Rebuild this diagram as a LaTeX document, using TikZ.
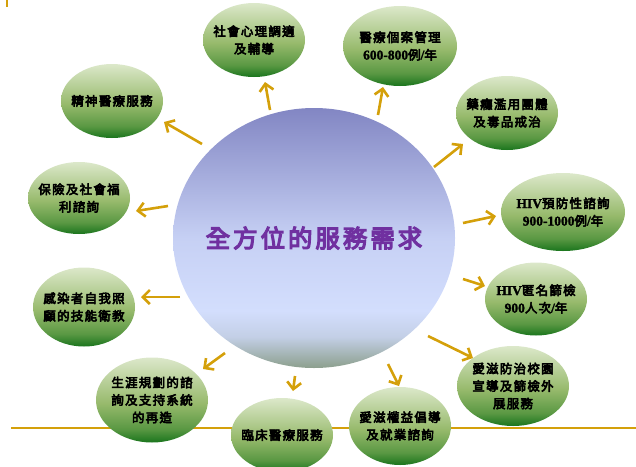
\documentclass[tikz,border=0pt]{standalone}
\usepackage{fontspec}
\usetikzlibrary{shapes.geometric,arrows.meta}
\newfontfamily\cjk{Noto Sans CJK TC}[FakeBold=4.5,LetterSpace=10]
\newfontfamily\cjkbig{Noto Sans CJK TC}[FakeBold=5,LetterSpace=12]
\newfontfamily\latb{Liberation Serif}[FakeBold=1.5]
\newcommand{\lt}[1]{{\latb\bfseries\fontsize{13.5}{17.5}\selectfont #1}}
\definecolor{gold}{HTML}{D4A00A}
\definecolor{purp}{HTML}{7030A0}
\definecolor{gDk}{HTML}{1A751D}
\definecolor{gMd}{HTML}{5A9843}
\definecolor{gMm}{HTML}{97BA6C}
\definecolor{gLt}{HTML}{DCE8CA}
\definecolor{bBt}{HTML}{8C9F8D}
\definecolor{bLo}{HTML}{C3CFE6}
\definecolor{bLt}{HTML}{D3DEFD}
\definecolor{bMd}{HTML}{C6D0F4}
\definecolor{bTp}{HTML}{8286C3}
\pgfdeclareverticalshading{gball}{100bp}{color(0bp)=(gDk); color(25bp)=(gDk); color(33bp)=(gMd); color(48bp)=(gMm); color(75bp)=(gLt); color(100bp)=(gLt)}
\pgfdeclareverticalshading{bball}{100bp}{color(0bp)=(bBt); color(25bp)=(bBt); color(31bp)=(bLo); color(36bp)=(bLt); color(50bp)=(bMd); color(75bp)=(bTp); color(100bp)=(bTp)}
\tikzset{
  gbub/.style={ellipse, shading=gball, inner sep=-30pt, align=center,
    font=\cjk\fontsize{12.5}{17.5}\selectfont, text=black},
  bbub/.style={ellipse, shading=bball, inner sep=-60pt, align=center,
    font=\cjkbig\fontsize{24.5}{28}\selectfont, text=purp},
  arr/.style={draw=gold, line width=2.6pt,
    -{Straight Barb[length=7pt,width=14pt,line width=2.6pt]}},
  rule/.style={draw=gold, line width=2pt}
}
\begin{document}
\begin{tikzpicture}[x=1pt,y=-1pt]
\useasboundingbox (0,0) rectangle (636,466);
\coordinate (r1) at (11,428);
\coordinate (r2) at (636,428);
\draw[rule] (r1) -- (r2);
\coordinate (t1) at (7,0);
\coordinate (t2) at (7,7);
\draw[draw=gold, line width=1.5pt] (t1) -- (t2);
% centre
\node[bbub, minimum width=282pt, minimum height=260pt] (c) at (314,238) {全方位的服務需求};
% satellites
\node[gbub, minimum width=102pt, minimum height=74pt] (n1) at (254,40) {社會心理調適\\及輔導};
\node[gbub, minimum width=114pt, minimum height=80pt] (n2) at (400,46) {醫療個案管理\\\lt{600-800}例\lt{/}年};
\node[gbub, minimum width=102pt, minimum height=74pt] (n3) at (507,113) {藥癮濫用團體\\及毒品戒治};
\node[gbub, minimum width=124pt, minimum height=78pt] (n4) at (563,212) {\lt{HIV}預防性諮詢\\\lt{900-1000}例\lt{/}年};
\node[gbub, minimum width=102pt, minimum height=73pt] (n5) at (536,299) {\lt{HIV}匿名篩檢\\\lt{900}人次\lt{/}年};
\node[gbub, minimum width=112pt, minimum height=80pt] (n6) at (513,386) {愛滋防治校園\\宣導及篩檢外\\展服務};
\node[gbub, minimum width=102pt, minimum height=78pt] (n7) at (400,426) {愛滋權益倡導\\及就業諮詢};
\node[gbub, minimum width=102pt, minimum height=74pt] (n8) at (282,435) {臨床醫療服務};
\node[gbub, minimum width=112pt, minimum height=85pt] (n9) at (152,400) {生涯規劃的諮\\詢及支持系統\\的再造};
\node[gbub, minimum width=102pt, minimum height=79pt] (n10) at (84,307) {感染者自我照\\顧的技能衛教};
\node[gbub, minimum width=102pt, minimum height=72pt] (n11) at (79,198) {保險及社會福\\利諮詢};
\node[gbub, minimum width=102pt, minimum height=74pt] (n12) at (112,101) {精神醫療服務};
% arrow ends
\coordinate (a1s) at (202,144); \coordinate (a1e) at (164,122);
\coordinate (a2s) at (270,110); \coordinate (a2e) at (265,82);
\coordinate (a3s) at (378,115); \coordinate (a3e) at (383,87);
\coordinate (a4s) at (434,167); \coordinate (a4e) at (463,144);
\coordinate (a5s) at (463,223); \coordinate (a5e) at (496,216);
\coordinate (a6s) at (463,279); \coordinate (a6e) at (485,286);
\coordinate (a7s) at (428,336); \coordinate (a7e) at (473,358);
\coordinate (a8s) at (388,364); \coordinate (a8e) at (399,386);
\coordinate (a9s) at (295,376); \coordinate (a9e) at (293,391);
\coordinate (a10s) at (225,353); \coordinate (a10e) at (203,369);
\coordinate (a11s) at (180,297); \coordinate (a11e) at (141,297);
\coordinate (a12s) at (168,206); \coordinate (a12e) at (136,211);
\foreach \i in {1,...,12} {\draw[arr] (a\i s) -- (a\i e);}
\end{tikzpicture}
\end{document}
